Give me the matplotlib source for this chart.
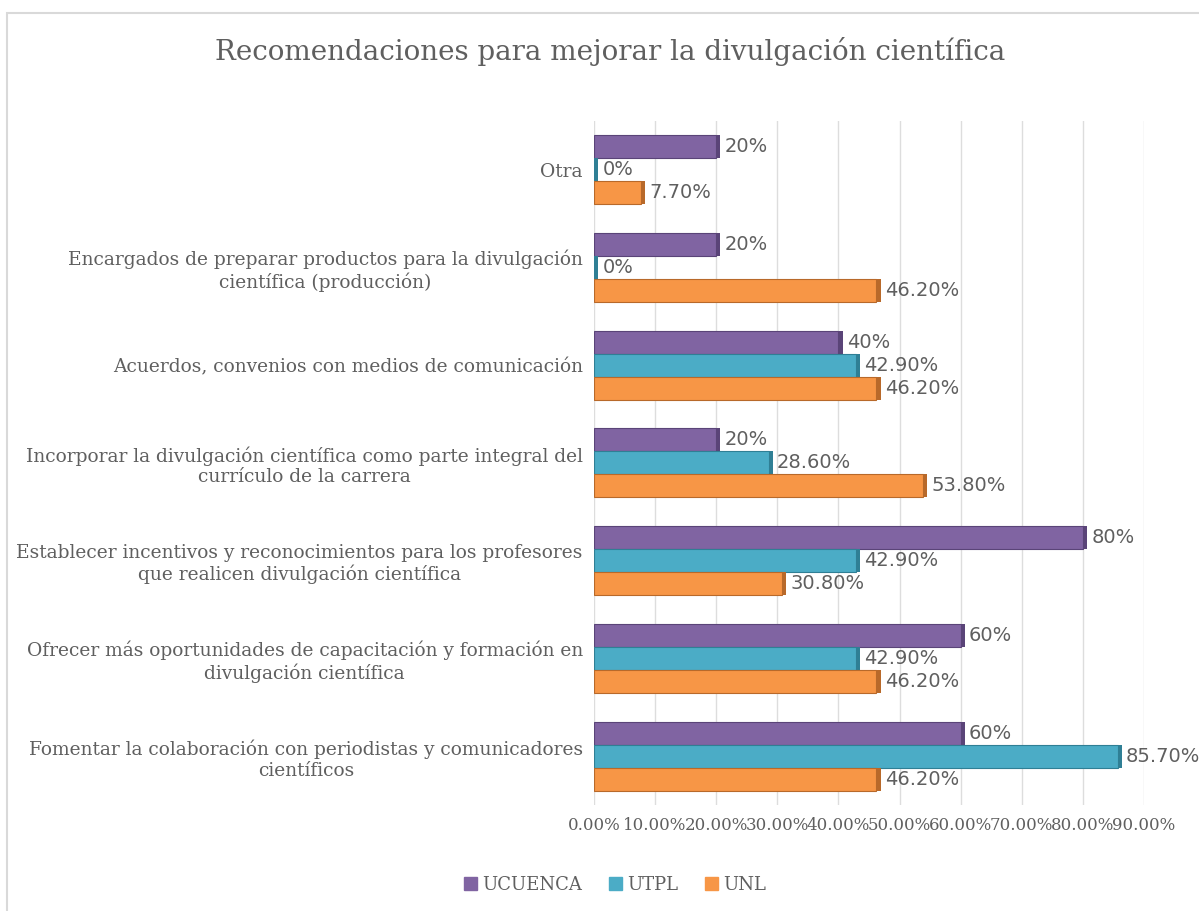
import matplotlib.pyplot as plt
import matplotlib.patches as mpatches
import numpy as np


categories = [
    'Fomentar la colaboración con periodistas y comunicadores\ncientíficos',
    'Ofrecer más oportunidades de capacitación y formación en\ndivulgación científica',
    'Establecer incentivos y reconocimientos para los profesores\nque realicen divulgación científica',
    'Incorporar la divulgación científica como parte integral del\ncurrículo de la carrera',
    'Acuerdos, convenios con medios de comunicación',
    'Encargados de preparar productos para la divulgación\ncientífica (producción)',
    'Otra',
]
ucuenca = [60, 60, 80, 20, 40, 20, 20]
utpl = [85.7, 42.9, 42.9, 28.6, 42.9, 0, 0]
unl = [46.2, 46.2, 30.8, 53.8, 46.2, 46.2, 7.7]
series_names = ['UCUENCA', 'UTPL', 'UNL']
xticks = [0, 10, 20, 30, 40, 50, 60, 70, 80, 90]

colors = ['#8064A2', '#4BACC6', '#F79646']
dark = ['#5A4478', '#2F7F95', '#B8692A']
text_gray = '#5F5F5F'


def fmt(v):
    if float(v).is_integer():
        return '%d%%' % v
    return '%.2f%%' % v


fig = plt.figure(figsize=(11.99, 9.11), dpi=100)
ax = fig.add_axes([0.4954, 0.1164, 0.4587, 0.751])

y = np.arange(len(categories))
h = 0.235
offsets = [h, 0, -h]
data = [ucuenca, utpl, unl]

for vals, off, c, dc, name in zip(data, offsets, colors, dark, series_names):
    bars = ax.barh(y + off, vals, h, color=c, edgecolor=dc, linewidth=0.8,
                   label=name, zorder=3)
    # darker end cap for the 3-D look
    ax.barh(y + off, [0.7] * len(vals), h, left=vals, color=dc,
            linewidth=0, zorder=3)
    ax.bar_label(bars, labels=[fmt(v) for v in vals], padding=6,
                 fontsize=14, color=text_gray, family='DejaVu Sans')

ax.set_xlim(0, 90)
ax.set_ylim(-0.5, len(categories) - 0.5)
ax.set_xticks(xticks, ['%.2f%%' % t for t in xticks])
ax.set_yticks(y, categories)
ax.grid(axis='x', color='#DDDDDD', linewidth=1, zorder=0)
for s in ax.spines.values():
    s.set_visible(False)
ax.tick_params(axis='both', length=0, colors=text_gray)
ax.tick_params(axis='y', pad=8)
ax.tick_params(axis='x', pad=9)
for lab in ax.get_yticklabels():
    lab.set_fontsize(13.4)
    lab.set_family('DejaVu Serif')
    lab.set_multialignment('center')
for lab in ax.get_xticklabels():
    lab.set_fontsize(12)
    lab.set_family('DejaVu Serif')

fig.text(610 / 1199, 1 - 52 / 911,
         'Recomendaciones para mejorar la divulgación científica',
         ha='center', va='center', fontsize=20, color=text_gray,
         family='DejaVu Serif')

handles = [mpatches.Patch(color=c) for c in colors]
fig.legend(handles, series_names, loc='center',
           bbox_to_anchor=(615 / 1199, 1 - 885 / 911), ncol=3, frameon=False,
           handlelength=0.7, handleheight=0.7, handletextpad=0.3,
           columnspacing=1.5, prop={'family': 'DejaVu Serif', 'size': 13},
           labelcolor=text_gray)

fig.patches.append(mpatches.Rectangle((7 / 1199, -0.1), 1.2, 1.1 - 13 / 911,
                                      fill=False, edgecolor='#D9D9D9',
                                      linewidth=1.5, transform=fig.transFigure))

fig.savefig('out.png', dpi=100)
